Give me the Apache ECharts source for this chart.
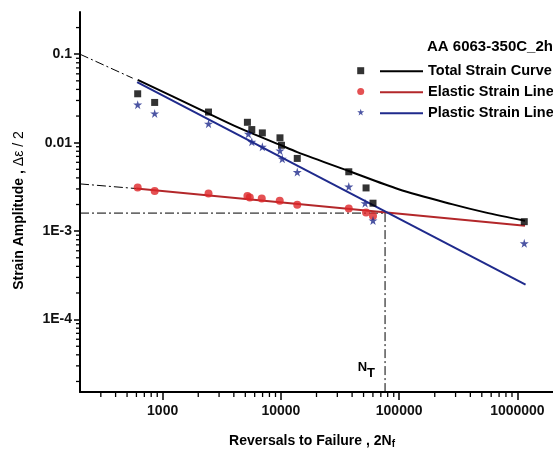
<!DOCTYPE html>
<html><head><meta charset="utf-8">
<script src="https://cdn.jsdelivr.net/npm/echarts@6/dist/echarts.min.js"></script>
<style>html,body{margin:0;padding:0;background:#fff}#c{width:553px;height:454px}</style>
</head><body><div id="c"></div>
<script>
// ---- data ----
const reversalsTotal = [615, 856, 2443, 5209, 5673, 6966, 9822, 10118, 13750, 37500, 52500, 60100, 1143000];
const totalStrain    = [0.0357, 0.0285, 0.0222, 0.0170, 0.01407, 0.0129, 0.01135, 0.00935, 0.00664, 0.00469, 0.00308, 0.00207, 0.00128];
const reversalsPlastic = [615, 856, 2443, 5309, 5673, 6966, 9822, 10270, 13750, 37500, 51500, 60100, 1143000];
const plasticStrain    = [0.0269, 0.0214, 0.0164, 0.0126, 0.01023, 0.0090, 0.00813, 0.00659, 0.00465, 0.00319, 0.00207, 0.00132, 0.00073];
const reversalsElastic = [615, 856, 2443, 5209, 5457, 6887, 9772, 13750, 37500, 52500, 60100];
const elasticStrain    = [0.00311, 0.00285, 0.00267, 0.00250, 0.00240, 0.00234, 0.00220, 0.00199, 0.00180, 0.00163, 0.00148];

const curveReversals = [615, 2040, 4433, 9640, 13750, 37500, 99000, 278700, 533000, 1159000];
const curveTotal     = [0.0513, 0.0240, 0.0147, 0.00955, 0.00783, 0.00478, 0.00298, 0.00202, 0.00163, 0.00131];
const elasticLineX = [597, 1159000];
const elasticLineY = [0.00303, 0.001153];
const plasticLineX = [608, 1172000];
const plasticLineY = [0.0483, 0.000249];

const plasticExtrapX = [200, 558];
const plasticExtrapY = [0.1, 0.0536];
const elasticExtrapX = [200, 597];
const elasticExtrapY = [0.00342, 0.00303];
const transitionN = 76000;
const transitionStrain = 0.0016;

const xRange = [200, 2000000];
const yRange = [1.52e-5, 0.3];
const minorMultipliers = [2, 3, 4, 5, 6, 7, 8, 9];
const legendNames = ['Total Strain Curve', 'Elastic Strain Line', 'Plastic Strain Line'];
const markerNames = ['Total data', 'Elastic data', 'Plastic data'];
const chartTitle = 'AA 6063-350C_2hr';

// ---- helpers ----
const zip = (a, b) => a.map((v, i) => [v, b[i]]);
function minorValues(lo, hi) {
  const out = [];
  for (let e = Math.floor(Math.log10(lo)); e <= Math.ceil(Math.log10(hi)); e++) {
    for (const m of minorMultipliers) {
      const v = m * Math.pow(10, e);
      if (v > lo * 1.0001 && v < hi * 0.9999) out.push(v);
    }
  }
  return out;
}
const xMinor = minorValues(xRange[0], xRange[1]);
const yMinor = minorValues(yRange[0], yRange[1]);

const FONT = 'Liberation Sans';
const BLACK = '#000';
const RED = '#dd2528';
const REDLINE = '#b3272a';
const BLUE = '#1f2a8c';
const dashDot = [9, 3, 2, 3];
const star = 'path://M50,0 L61,35 L98,35 L68,57 L79,91 L50,70 L21,91 L32,57 L2,35 L39,35 Z';
const lineIcon = 'path://M0,0H43V2H0Z';

const chart = echarts.init(document.getElementById('c'), null, {renderer: 'canvas'});
chart.setOption({
  animation: false,
  backgroundColor: '#fff',
  title: {
    text: chartTitle, left: 422, top: 34,
    textStyle: {fontFamily: FONT, fontWeight: 'bold', fontSize: 15, color: BLACK}
  },
  legend: [
    {
      data: legendNames.map(n => ({name: n, icon: lineIcon})), orient: 'vertical', left: 375, top: 58.7,
      itemWidth: 43, itemHeight: 14, itemGap: 6, selectedMode: false,
      textStyle: {fontFamily: FONT, fontWeight: 'bold', fontSize: 14.5, lineHeight: 14, color: BLACK}
    },
    {
      data: markerNames, orient: 'vertical', left: 352.2, top: 62.2,
      itemWidth: 7, itemHeight: 7, itemGap: 13.8, selectedMode: false,
      formatter: () => '',
      textStyle: {fontSize: 14, lineHeight: 14}
    }
  ],
  grid: {left: 80, top: 12, right: -2, bottom: 61, containLabel: false},
  xAxis: {
    type: 'log', logBase: 10, min: xRange[0], max: xRange[1],
    name: '{a|Reversals to Failure , 2N}{s|f}', nameLocation: 'middle', nameGap: 41,
    nameTextStyle: {
      padding: [0, 9, 0, 0],
      rich: {
        a: {fontFamily: FONT, fontWeight: 'bold', fontSize: 14, color: BLACK},
        s: {fontFamily: FONT, fontWeight: 'bold', fontSize: 10, color: BLACK, verticalAlign: 'bottom', padding: [6, 0, 0, 0]}
      }
    },
    axisLine: {show: true, lineStyle: {color: BLACK, width: 2}},
    axisTick: {show: true, length: 8, lineStyle: {color: BLACK, width: 1.5}},
    axisLabel: {
      showMinLabel: false, showMaxLabel: false, margin: 12,
      fontFamily: FONT, fontWeight: 'bold', fontSize: 14, color: '#111',
      formatter: v => String(Math.round(v))
    },
    splitLine: {show: false}
  },
  yAxis: {
    type: 'log', logBase: 10, min: yRange[0], max: yRange[1],
    name: '{a|Strain Amplitude , }{b|Δε / 2}', nameLocation: 'middle', nameGap: 54, nameRotate: 90,
    nameTextStyle: {
      padding: [0, 17, 0, 0],
      rich: {
        a: {fontFamily: FONT, fontWeight: 'bold', fontSize: 14, color: BLACK},
        b: {fontFamily: FONT, fontSize: 14, color: BLACK}
      }
    },
    axisLine: {show: true, lineStyle: {color: BLACK, width: 2}},
    axisTick: {show: true, length: 6, lineStyle: {color: BLACK, width: 1.5}},
    axisLabel: {
      showMinLabel: false, showMaxLabel: false, margin: 8,
      fontFamily: FONT, fontWeight: 'bold', fontSize: 14, color: '#111',
      formatter: v => {
        const e = Math.round(Math.log10(v));
        return e >= -2 ? String(Number(Math.pow(10, e).toPrecision(1))) : '1E' + e;
      }
    },
    splitLine: {show: false}
  },
  series: [
    {
      type: 'line', name: '', data: zip(plasticExtrapX, plasticExtrapY), symbol: 'none', silent: true,
      lineStyle: {color: BLACK, width: 1, type: dashDot}, z: 2
    },
    {
      type: 'line', name: '', data: zip(elasticExtrapX, elasticExtrapY), symbol: 'none', silent: true,
      lineStyle: {color: BLACK, width: 1, type: dashDot}, z: 2
    },
    {
      type: 'line', name: '', data: [[xRange[0], transitionStrain], [transitionN, transitionStrain]], symbol: 'none', silent: true,
      lineStyle: {color: BLACK, width: 1, type: dashDot}, z: 2
    },
    {
      type: 'line', name: '', data: [[transitionN, transitionStrain], [transitionN, yRange[0]]], symbol: 'none', silent: true,
      lineStyle: {color: BLACK, width: 1, type: dashDot}, z: 2,
      markPoint: {
        symbol: 'circle', symbolSize: 0, silent: true,
        data: [{coord: [transitionN, 2.9e-5]}],
        label: {
          show: true, position: 'left', distance: 10,
          formatter: '{n|N}{t|T}',
          rich: {
            n: {fontFamily: FONT, fontWeight: 'bold', fontSize: 13, color: BLACK},
            t: {fontFamily: FONT, fontWeight: 'bold', fontSize: 13, color: BLACK, padding: [12, 0, 0, 0]}
          }
        }
      }
    },
    {
      type: 'line', name: legendNames[1], data: zip(elasticLineX, elasticLineY), symbol: 'none',
      lineStyle: {color: REDLINE, width: 2}, itemStyle: {color: REDLINE}, z: 3
    },
    {
      type: 'line', name: legendNames[2], data: zip(plasticLineX, plasticLineY), symbol: 'none',
      lineStyle: {color: BLUE, width: 2}, itemStyle: {color: BLUE}, z: 3
    },
    {
      type: 'line', name: legendNames[0], data: zip(curveReversals, curveTotal), symbol: 'none', smooth: 0.3,
      lineStyle: {color: BLACK, width: 2}, itemStyle: {color: BLACK}, z: 3
    },
    {
      type: 'scatter', name: markerNames[1], data: zip(reversalsElastic, elasticStrain),
      symbol: 'circle', symbolSize: 8, itemStyle: {color: RED}, z: 5
    },
    {
      type: 'scatter', name: markerNames[0], data: zip(reversalsTotal, totalStrain),
      symbol: 'rect', symbolSize: 7, itemStyle: {color: BLACK}, z: 6
    },
    {
      type: 'scatter', name: markerNames[2], data: zip(reversalsPlastic, plasticStrain),
      symbol: star, symbolSize: 9, itemStyle: {color: BLUE}, z: 7
    },
    {
      type: 'custom', name: '', silent: true, clip: false, z: 10,
      data: xMinor.map(v => [v, 1e-3]),
      renderItem: (params, api) => {
        const cs = params.coordSys;
        const x = api.coord([api.value(0), api.value(1)])[0];
        const y0 = cs.y + cs.height;
        return {type: 'line', shape: {x1: x, y1: y0, x2: x, y2: y0 + 5}, style: {stroke: BLACK, lineWidth: 1.3}};
      }
    },
    {
      type: 'custom', name: '', silent: true, clip: false, z: 10,
      data: yMinor.map(v => [1000, v]),
      renderItem: (params, api) => {
        const cs = params.coordSys;
        const y = api.coord([api.value(0), api.value(1)])[1];
        const x0 = cs.x;
        return {type: 'line', shape: {x1: x0, y1: y, x2: x0 - 4, y2: y}, style: {stroke: BLACK, lineWidth: 1.3}};
      }
    }
  ]
});
</script></body></html>
